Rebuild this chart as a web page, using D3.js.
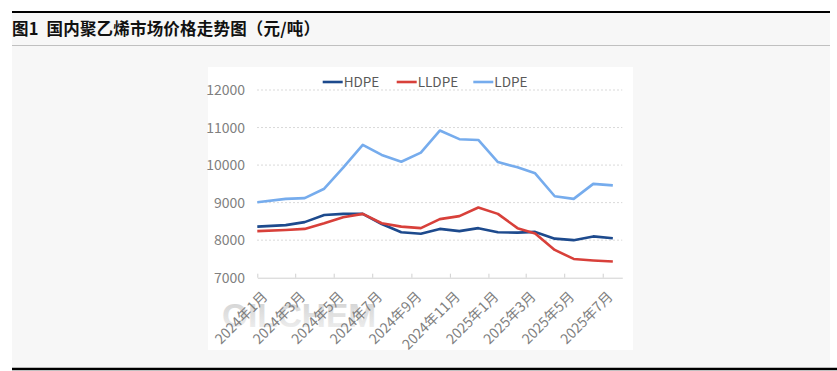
<!DOCTYPE html>
<html>
<head>
<meta charset="utf-8">
<script src="https://cdn.jsdelivr.net/npm/d3@7"></script>
<style>
  body { margin: 0; background: #fff; }
  svg { display: block; font-family: "Noto Sans CJK SC", "Noto Sans", sans-serif; }
</style>
</head>
<body>
<div id="chart"></div>
<script>
// data
const dates = ["2024-01-01", "2024-02-15", "2024-03-16", "2024-04-16", "2024-05-16", "2024-06-16",
  "2024-07-16", "2024-08-16", "2024-09-16", "2024-10-16", "2024-11-16", "2024-12-16",
  "2025-01-16", "2025-02-16", "2025-03-16", "2025-04-16", "2025-05-16", "2025-06-16", "2025-07-17"];
const hdpe = [8360, 8400, 8480, 8670, 8700, 8700, 8430, 8210, 8170, 8300, 8240, 8320, 8210, 8200, 8220, 8040, 8000, 8100, 8050];
const lldpe = [8240, 8270, 8300, 8450, 8610, 8700, 8450, 8360, 8320, 8560, 8640, 8870, 8700, 8320, 8180, 7740, 7500, 7460, 7430];
const ldpe = [9010, 9100, 9120, 9370, 9930, 10540, 10270, 10090, 10330, 10920, 10690, 10670, 10080, 9940, 9780, 9170, 9100, 9500, 9460];
const seriesNames = ["HDPE", "LLDPE", "LDPE"];
const yTicks = [7000, 8000, 9000, 10000, 11000, 12000];
const title = "图1  国内聚乙烯市场价格走势图（元/吨）";

const colors = { HDPE: "#1d4a8d", LLDPE: "#d8403a", LDPE: "#76aced" };
const parse = d3.timeParse("%Y-%m-%d");
const series = [
  { name: "HDPE", values: hdpe },
  { name: "LLDPE", values: lldpe },
  { name: "LDPE", values: ldpe },
];

const W = 837, H = 371;
const svg = d3.select("#chart").append("svg").attr("width", W).attr("height", H);

// page frame
svg.append("rect").attr("x", 12).attr("y", 13).attr("width", W - 19).attr("height", 355).attr("fill", "#f7f7f7");
svg.append("line").attr("x1", 12).attr("x2", 830).attr("y1", 12).attr("y2", 12)
  .attr("stroke", "#000").attr("stroke-width", 2);
svg.append("line").attr("x1", 12).attr("x2", 830).attr("y1", 45.5).attr("y2", 45.5)
  .attr("stroke", "#c0c0c0").attr("stroke-width", 1);
svg.append("line").attr("x1", 12).attr("x2", W).attr("y1", 369).attr("y2", 369)
  .attr("stroke", "#000").attr("stroke-width", 2.5);
svg.append("text").attr("x", 12).attr("y", 35).attr("font-size", 16.5).attr("font-weight", "bold")
  .attr("fill", "#111").style("white-space", "pre")
  .attr("textLength", 308).attr("lengthAdjust", "spacing").text(title);

// chart panel
svg.append("rect").attr("x", 208).attr("y", 67).attr("width", 425).attr("height", 283).attr("fill", "#fff");

const x = d3.scaleTime()
  .domain([new Date(2024, 0, 1), new Date(2025, 7, 1)])
  .range([257.3, 622.3]);
const y = d3.scaleLinear().domain([7000, 12000]).range([277.7, 90]);

// watermark
const grad = svg.append("defs").append("linearGradient").attr("id", "wm")
  .attr("x1", 0).attr("y1", 0).attr("x2", 0).attr("y2", 1);
grad.append("stop").attr("offset", "0%").attr("stop-color", "#cfcfcf");
grad.append("stop").attr("offset", "100%").attr("stop-color", "#f2f2f2");
svg.append("text").attr("x", 222).attr("y", 327).attr("font-size", 34).attr("font-weight", "bold")
  .attr("font-family", "Liberation Sans, Arial, sans-serif")
  .attr("textLength", 154).attr("lengthAdjust", "spacingAndGlyphs")
  .attr("fill", "url(#wm)").text("OILCHEM");

// gridlines
svg.append("g").selectAll("line").data(yTicks.filter(d => d > 7000)).join("line")
  .attr("x1", 257).attr("x2", 622.3)
  .attr("y1", d => y(d)).attr("y2", d => y(d))
  .attr("stroke", "#d9d9d9").attr("stroke-dasharray", "2,2");

// y axis labels
const yAxis = svg.append("g").attr("transform", "translate(245,0)")
  .call(d3.axisLeft(y).tickValues(yTicks).tickSize(0).tickPadding(0).tickFormat(d3.format("d")));
yAxis.select(".domain").remove();
yAxis.selectAll("text").attr("font-size", 14).attr("fill", "#808080")
  .attr("font-family", "Noto Sans CJK SC, sans-serif");

// x axis
const xTicks = d3.timeMonth.every(2).range(new Date(2024, 0, 1), new Date(2025, 7, 1));
const xAxis = svg.append("g").attr("transform", `translate(0,${y(7000)})`)
  .call(d3.axisBottom(x).tickValues(xTicks).tickSizeInner(-4).tickSizeOuter(0).tickFormat(() => ""));
xAxis.select(".domain").attr("stroke", "#d0d0d0");
xAxis.selectAll(".tick line").attr("stroke", "#d0d0d0");

svg.append("g").selectAll("text").data(xTicks).join("text")
  .attr("transform", d => `translate(${x(d) + 11},${y(7000) + 20}) rotate(-45)`)
  .attr("text-anchor", "end")
  .attr("font-size", 14).attr("fill", "#7f7f7f")
  .text(d3.timeFormat("%Y年%-m月"));

// lines
const line = d3.line().x((d, i) => x(parse(dates[i]))).y(d => y(d));
svg.append("g").selectAll("path").data(series).join("path")
  .attr("d", d => line(d.values))
  .attr("fill", "none")
  .attr("stroke", d => colors[d.name])
  .attr("stroke-width", 2.6)
  .attr("stroke-linejoin", "round");

// legend
const legendX = [322.7, 396.7, 473.3];
const lg = svg.append("g").selectAll("g").data(seriesNames).join("g")
  .attr("transform", (d, i) => `translate(${legendX[i]},82)`);
lg.append("line").attr("x1", 0).attr("x2", 20).attr("stroke", d => colors[d]).attr("stroke-width", 2.6);
lg.append("text").attr("x", 21).attr("dy", "0.35em").attr("font-size", 13.5).attr("fill", "#595959").text(d => d);
</script>
</body>
</html>
